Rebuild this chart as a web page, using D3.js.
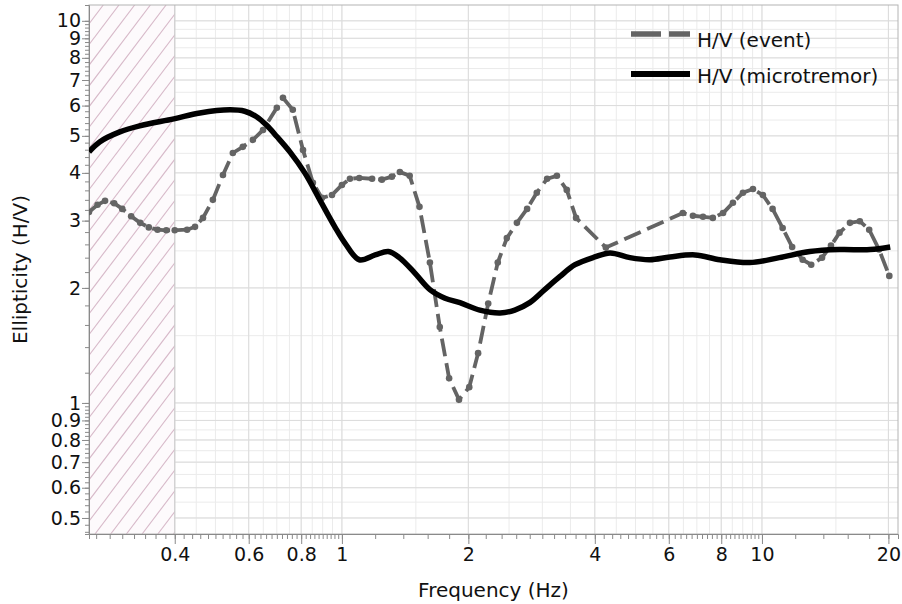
<!DOCTYPE html>
<html>
<head>
<meta charset="utf-8">
<script src="https://cdn.jsdelivr.net/npm/d3@7"></script>
<style>
  body { margin: 0; background: #fff; }
  text { font-family: "DejaVu Sans", sans-serif; fill: #111; }
</style>
</head>
<body>
<div class="chart"></div>
<script>
// H/V (microtremor), smooth curve
var microFreq = [0.25, 0.265, 0.296, 0.330, 0.398, 0.459, 0.541, 0.587, 0.625, 0.663,
    0.70, 0.752, 0.816, 0.886, 0.962, 1.017, 1.10, 1.20, 1.29, 1.37, 1.49,
    1.62, 1.76, 1.91, 2.13, 2.38, 2.58, 2.80, 3.04, 3.30, 3.59,
    4.00, 4.35, 4.85, 5.41, 6.04, 6.93, 7.94, 9.36, 11.0, 13.0,
    15.3, 18.1, 20.2]
var microVal = [4.54, 4.82, 5.12, 5.31, 5.54, 5.74, 5.85, 5.80, 5.62, 5.32,
    4.98, 4.54, 4.00, 3.40, 2.89, 2.62, 2.37, 2.44, 2.49, 2.40, 2.19,
    1.98, 1.88, 1.83, 1.75, 1.72, 1.75, 1.83, 1.98, 2.14, 2.30,
    2.41, 2.47, 2.40, 2.37, 2.41, 2.44, 2.37, 2.33, 2.40, 2.49,
    2.52, 2.52, 2.56]

// H/V (event), dashed with points
var eventFreq = [0.25, 0.262, 0.273, 0.287, 0.30, 0.315, 0.331, 0.347, 0.364, 0.382,
    0.40, 0.428, 0.447, 0.467, 0.493, 0.521, 0.550, 0.581, 0.614, 0.649,
    0.700, 0.724, 0.764, 0.808, 0.853, 0.896, 0.947, 1.0, 1.045, 1.10,
    1.18, 1.245, 1.315, 1.374, 1.45, 1.53, 1.62, 1.71, 1.80, 1.90,
    2.01, 2.11, 2.23, 2.35, 2.47, 2.61, 2.76, 2.91, 3.08, 3.25,
    3.43, 3.61, 4.25, 6.48, 6.85, 7.24, 7.64, 8.08, 8.53, 9.01,
    9.52, 10.05, 10.6, 11.2, 11.8, 12.5, 13.1, 13.9, 14.6, 15.3,
    16.2, 17.1, 18.0, 19.0, 20.1]
var eventVal = [3.16, 3.30, 3.38, 3.33, 3.22, 3.08, 2.96, 2.88, 2.84, 2.83,
    2.83, 2.84, 2.89, 3.05, 3.40, 3.95, 4.51, 4.68, 4.88, 5.18,
    5.92, 6.29, 5.85, 4.59, 3.77, 3.44, 3.50, 3.72, 3.86, 3.88,
    3.86, 3.84, 3.91, 4.02, 3.93, 3.26, 2.33, 1.58, 1.16, 1.02,
    1.10, 1.35, 1.82, 2.33, 2.70, 2.96, 3.22, 3.55, 3.86, 3.93,
    3.61, 3.05, 2.55, 3.14, 3.09, 3.07, 3.05, 3.14, 3.34, 3.55,
    3.63, 3.50, 3.22, 2.87, 2.56, 2.37, 2.30, 2.40, 2.58, 2.79,
    2.96, 2.99, 2.84, 2.52, 2.15]

var xTickLabels = [0.4, 0.6, 0.8, 1, 2, 4, 6, 8, 10, 20]
var yTickLabels = [0.5, 0.6, 0.7, 0.8, 0.9, 1, 2, 3, 4, 5, 6, 7, 8, 9, 10]
var seriesNames = ["H/V (event)", "H/V (microtremor)"]
var hatchLimit = 0.4

var margin = { top: 5, right: 4, bottom: 70, left: 89 },
    width = 902 - margin.left - margin.right,
    height = 604 - margin.top - margin.bottom;

var svg = d3.select(".chart")
    .append("svg")
    .attr("width", 902)
    .attr("height", 604)
    .append("g")
    .attr("transform", "translate(" + margin.left + "," + margin.top + ")");

var x = d3.scaleLog().domain([0.25, 21.08]).range([0, width])
var y = d3.scaleLog().domain([0.454, 11.0]).range([height, 0])

// values at a fixed fraction of each decade (ticks and grid)
function decadeSteps(lo, hi, frac) {
    var out = []
    for (var e = Math.floor(Math.log10(lo)); e <= Math.ceil(Math.log10(hi)); e++) {
        var d = Math.pow(10, e)
        var n = Math.round(9 / frac)
        for (var i = 0; i < n; i++) {
            var v = d * (1 + i * frac)
            v = +v.toPrecision(6)
            if (v >= lo && v <= hi) out.push(v)
        }
    }
    return out
}

svg.append("defs").append("clipPath")
    .attr("id", "plot-clip")
    .append("rect")
    .attr("width", width)
    .attr("height", height);

// grid
var gx = decadeSteps(0.25, 21.08, 0.5)
var gy = decadeSteps(0.454, 11.0, 0.5)
svg.append("g").selectAll("line")
    .data(gx)
    .join("line")
    .attr("x1", d => x(d)).attr("x2", d => x(d))
    .attr("y1", 0).attr("y2", height)
    .attr("stroke", "#ebebeb")
    .attr("stroke-width", 1);
svg.append("g").selectAll("line")
    .data(gy)
    .join("line")
    .attr("y1", d => y(d)).attr("y2", d => y(d))
    .attr("x1", 0).attr("x2", width)
    .attr("stroke", "#ebebeb")
    .attr("stroke-width", 1);
svg.append("g").selectAll("line")
    .data(xTickLabels)
    .join("line")
    .attr("x1", d => x(d)).attr("x2", d => x(d))
    .attr("y1", 0).attr("y2", height)
    .attr("stroke", "#dcdcdc");
svg.append("g").selectAll("line")
    .data(yTickLabels)
    .join("line")
    .attr("y1", d => y(d)).attr("y2", d => y(d))
    .attr("x1", 0).attr("x2", width)
    .attr("stroke", "#dcdcdc");

// hatched zone below 0.4 Hz
var hatchW = x(hatchLimit)
svg.append("defs").append("clipPath")
    .attr("id", "hatch-clip")
    .append("rect")
    .attr("width", hatchW)
    .attr("height", height);
svg.append("rect")
    .attr("width", hatchW)
    .attr("height", height)
    .attr("fill", "#fdfafc");
var slope = 1.32, spacing = 15.7
var hatchLines = d3.range(-Math.ceil(height / slope / spacing), Math.ceil(hatchW / spacing) + 1)
svg.append("g")
    .attr("clip-path", "url(#hatch-clip)")
    .selectAll("line")
    .data(hatchLines)
    .join("line")
    .attr("x1", d => 6 + d * spacing)
    .attr("y1", height)
    .attr("x2", d => 6 + d * spacing + height / slope)
    .attr("y2", 0)
    .attr("stroke", "#d7b9c9")
    .attr("stroke-width", 1.1);
svg.append("line")
    .attr("x1", hatchW).attr("x2", hatchW)
    .attr("y1", 0).attr("y2", height)
    .attr("stroke", "#c8c8c8");

// frame
svg.append("rect")
    .attr("width", width)
    .attr("height", height)
    .attr("fill", "none")
    .attr("stroke", "#b4b4b4");

// axes
var xMinor = decadeSteps(0.25, 21.08, 0.2)
var yMinor = decadeSteps(0.454, 11.0, 0.2)

svg.append("g")
    .attr("transform", "translate(0," + height + ")")
    .call(d3.axisBottom(x).tickValues(xMinor).tickSize(5).tickFormat(""))
    .call(g => g.selectAll("line, path").attr("stroke", "#8a8a8a"));
svg.append("g")
    .attr("transform", "translate(0," + height + ")")
    .style("font", "19px 'DejaVu Sans'")
    .call(d3.axisBottom(x).tickValues(xTickLabels).tickSize(10).tickPadding(4).tickFormat(d3.format("")))
    .call(g => g.select(".domain").remove())
    .call(g => g.selectAll("line").attr("stroke", "#8a8a8a"))
    .call(g => g.selectAll("text").attr("fill", "#111"));

svg.append("g")
    .call(d3.axisLeft(y).tickValues(yMinor).tickSize(4).tickFormat(""))
    .call(g => g.selectAll("line, path").attr("stroke", "#8a8a8a"));
svg.append("g")
    .style("font", "19px 'DejaVu Sans'")
    .call(d3.axisLeft(y).tickValues(yTickLabels).tickSize(7).tickPadding(1).tickFormat(d3.format("")))
    .call(g => g.select(".domain").remove())
    .call(g => g.selectAll("line").attr("stroke", "#8a8a8a"))
    .call(g => g.selectAll("text").attr("fill", "#111"));

// axis titles
svg.append("text")
    .attr("x", width / 2)
    .attr("y", height + 63)
    .attr("text-anchor", "middle")
    .style("font-size", "20px")
    .text("Frequency (Hz)");
svg.append("text")
    .attr("transform", "translate(" + (-62) + "," + (height / 2) + ") rotate(-90)")
    .attr("text-anchor", "middle")
    .style("font-size", "20px")
    .text("Ellipticity (H/V)");

// curves
var eventData = eventFreq.map((f, i) => ({ f: f, v: eventVal[i] }))
var microData = microFreq.map((f, i) => ({ f: f, v: microVal[i] }))

var plot = svg.append("g").attr("clip-path", "url(#plot-clip)")

plot.append("path")
    .datum(eventData)
    .attr("fill", "none")
    .attr("stroke", "#646464")
    .attr("stroke-width", 3.8)
    .attr("stroke-dasharray", "18,7")
    .attr("d", d3.line().x(d => x(d.f)).y(d => y(d.v)));
plot.append("g").selectAll("circle")
    .data(eventData)
    .join("circle")
    .attr("cx", d => x(d.f))
    .attr("cy", d => y(d.v))
    .attr("r", 3.3)
    .attr("fill", "#646464");

plot.append("path")
    .datum(microData)
    .attr("fill", "none")
    .attr("stroke", "#000")
    .attr("stroke-width", 5.5)
    .attr("stroke-linejoin", "round")
    .attr("d", d3.line().curve(d3.curveCatmullRom).x(d => x(d.f)).y(d => y(d.v)));

// legend
var legend = svg.append("g").attr("transform", "translate(" + (631 - margin.left) + ",0)")
legend.append("line")
    .attr("x1", 0).attr("x2", 59)
    .attr("y1", 34 - margin.top).attr("y2", 34 - margin.top)
    .attr("stroke", "#646464")
    .attr("stroke-width", 5.5)
    .attr("stroke-dasharray", "30,8");
legend.append("text")
    .attr("x", 66).attr("y", 47 - margin.top)
    .style("font-size", "20px")
    .text(seriesNames[0]);
legend.append("line")
    .attr("x1", 0).attr("x2", 59)
    .attr("y1", 74 - margin.top).attr("y2", 74 - margin.top)
    .attr("stroke", "#000")
    .attr("stroke-width", 6);
legend.append("text")
    .attr("x", 66).attr("y", 83 - margin.top)
    .style("font-size", "20px")
    .text(seriesNames[1]);
</script>
</body>
</html>
